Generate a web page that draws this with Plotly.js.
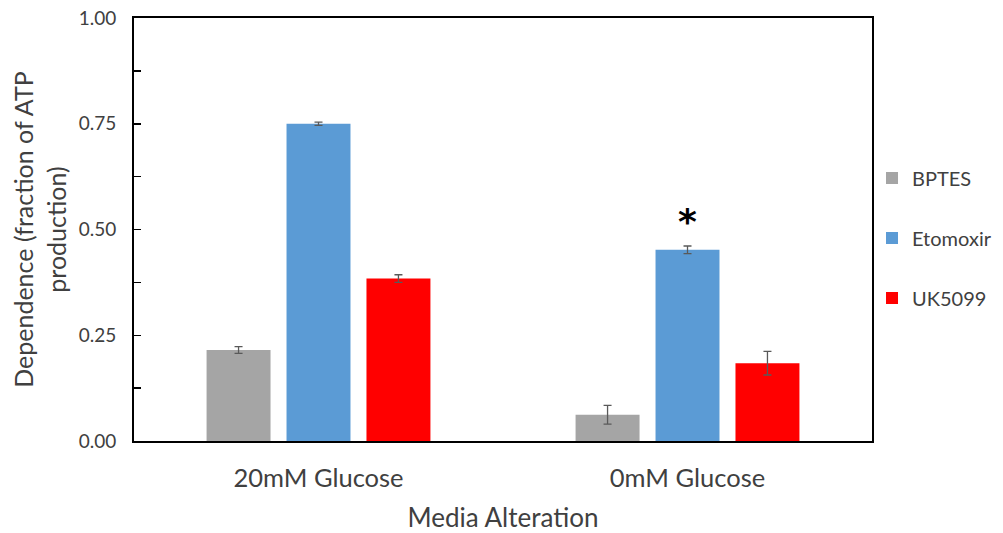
<!DOCTYPE html>
<html>
<head>
<meta charset="utf-8">
<script src="https://cdn.plot.ly/plotly-3.0.1.min.js"></script>
<style>html,body{margin:0;padding:0;background:#fff;}#chart{width:1003px;height:533px;}</style>
</head>
<body>
<div id="chart"></div>
<script>
const categories = ["20mM Glucose", "0mM Glucose"];
const seriesNames = ["BPTES", "Etomoxir", "UK5099"];
const bptes = [0.215, 0.062];
const bptesErr = [0.008, 0.022];
const etomoxir = [0.750, 0.452];
const etomoxirErr = [0.004, 0.009];
const uk5099 = [0.384, 0.184];
const uk5099Err = [0.009, 0.028];
const tickValues = [0, 0.125, 0.25, 0.375, 0.5, 0.625, 0.75, 0.875, 1.0];
const tickLabels = ["0.00", "", "0.25", "", "0.50", "", "0.75", "", "1.00"];
const significance = {category: "0mM Glucose", value: 0.52, text: "*"};

const colors = ["#a5a5a5", "#5b9bd5", "#ff0000"];
const values = [bptes, etomoxir, uk5099];
const errs = [bptesErr, etomoxirErr, uk5099Err];
const fontFam = "Lato, 'Open Sans', sans-serif";

const traces = seriesNames.map((name, i) => ({
  type: "bar",
  name: name,
  x: categories,
  y: values[i],
  legendgroup: "g" + i,
  marker: {color: colors[i], line: {width: 0}},
  error_y: {type: "data", array: errs[i], visible: true, color: "#595959", thickness: 1.3, width: 4}
}));

const layout = {
  width: 1003,
  height: 533,
  margin: {l: 134, r: 129, t: 18, b: 92},
  paper_bgcolor: "#fff",
  plot_bgcolor: "#fff",
  barmode: "group",
  bargap: 0.35,
  bargroupgap: 0.2,
  font: {family: fontFam, color: "#404040"},
  xaxis: {
    type: "category",
    showline: true, mirror: true, linecolor: "#000", linewidth: 2,
    ticks: "", showgrid: false, zeroline: false,
    tickfont: {size: 25.5, color: "#404040"},
    ticklabelstandoff: 13,
    title: {text: "Media Alteration", font: {size: 26, color: "#404040"}, standoff: 23}
  },
  yaxis: {
    range: [0, 1.0],
    tickvals: tickValues, ticktext: tickLabels,
    ticks: "inside", ticklen: 7, tickwidth: 1.5, tickcolor: "#000",
    showline: true, mirror: true, linecolor: "#000", linewidth: 2,
    showgrid: false, zeroline: false,
    tickfont: {size: 19, color: "#404040"},
    ticklabelstandoff: 12,
    title: {text: "Dependence (fraction of ATP<br>production)", font: {size: 25, color: "#404040"}, standoff: 5}
  },
  legend: {
    xref: "container", x: 0.8694, xanchor: "left",
    yref: "paper", y: 0.48, yanchor: "middle",
    font: {size: 20, color: "#404040"},
    tracegroupgap: 31,
    itemwidth: 30,
    bgcolor: "rgba(0,0,0,0)"
  },
  annotations: [{
    x: significance.category, y: significance.value, xref: "x", yref: "y",
    text: "<b>" + significance.text + "</b>", showarrow: false,
    font: {size: 36, color: "#000", family: "'DejaVu Sans', sans-serif"}
  }]
};

Plotly.newPlot("chart", traces, layout, {displayModeBar: false, staticPlot: true});
</script>
</body>
</html>
